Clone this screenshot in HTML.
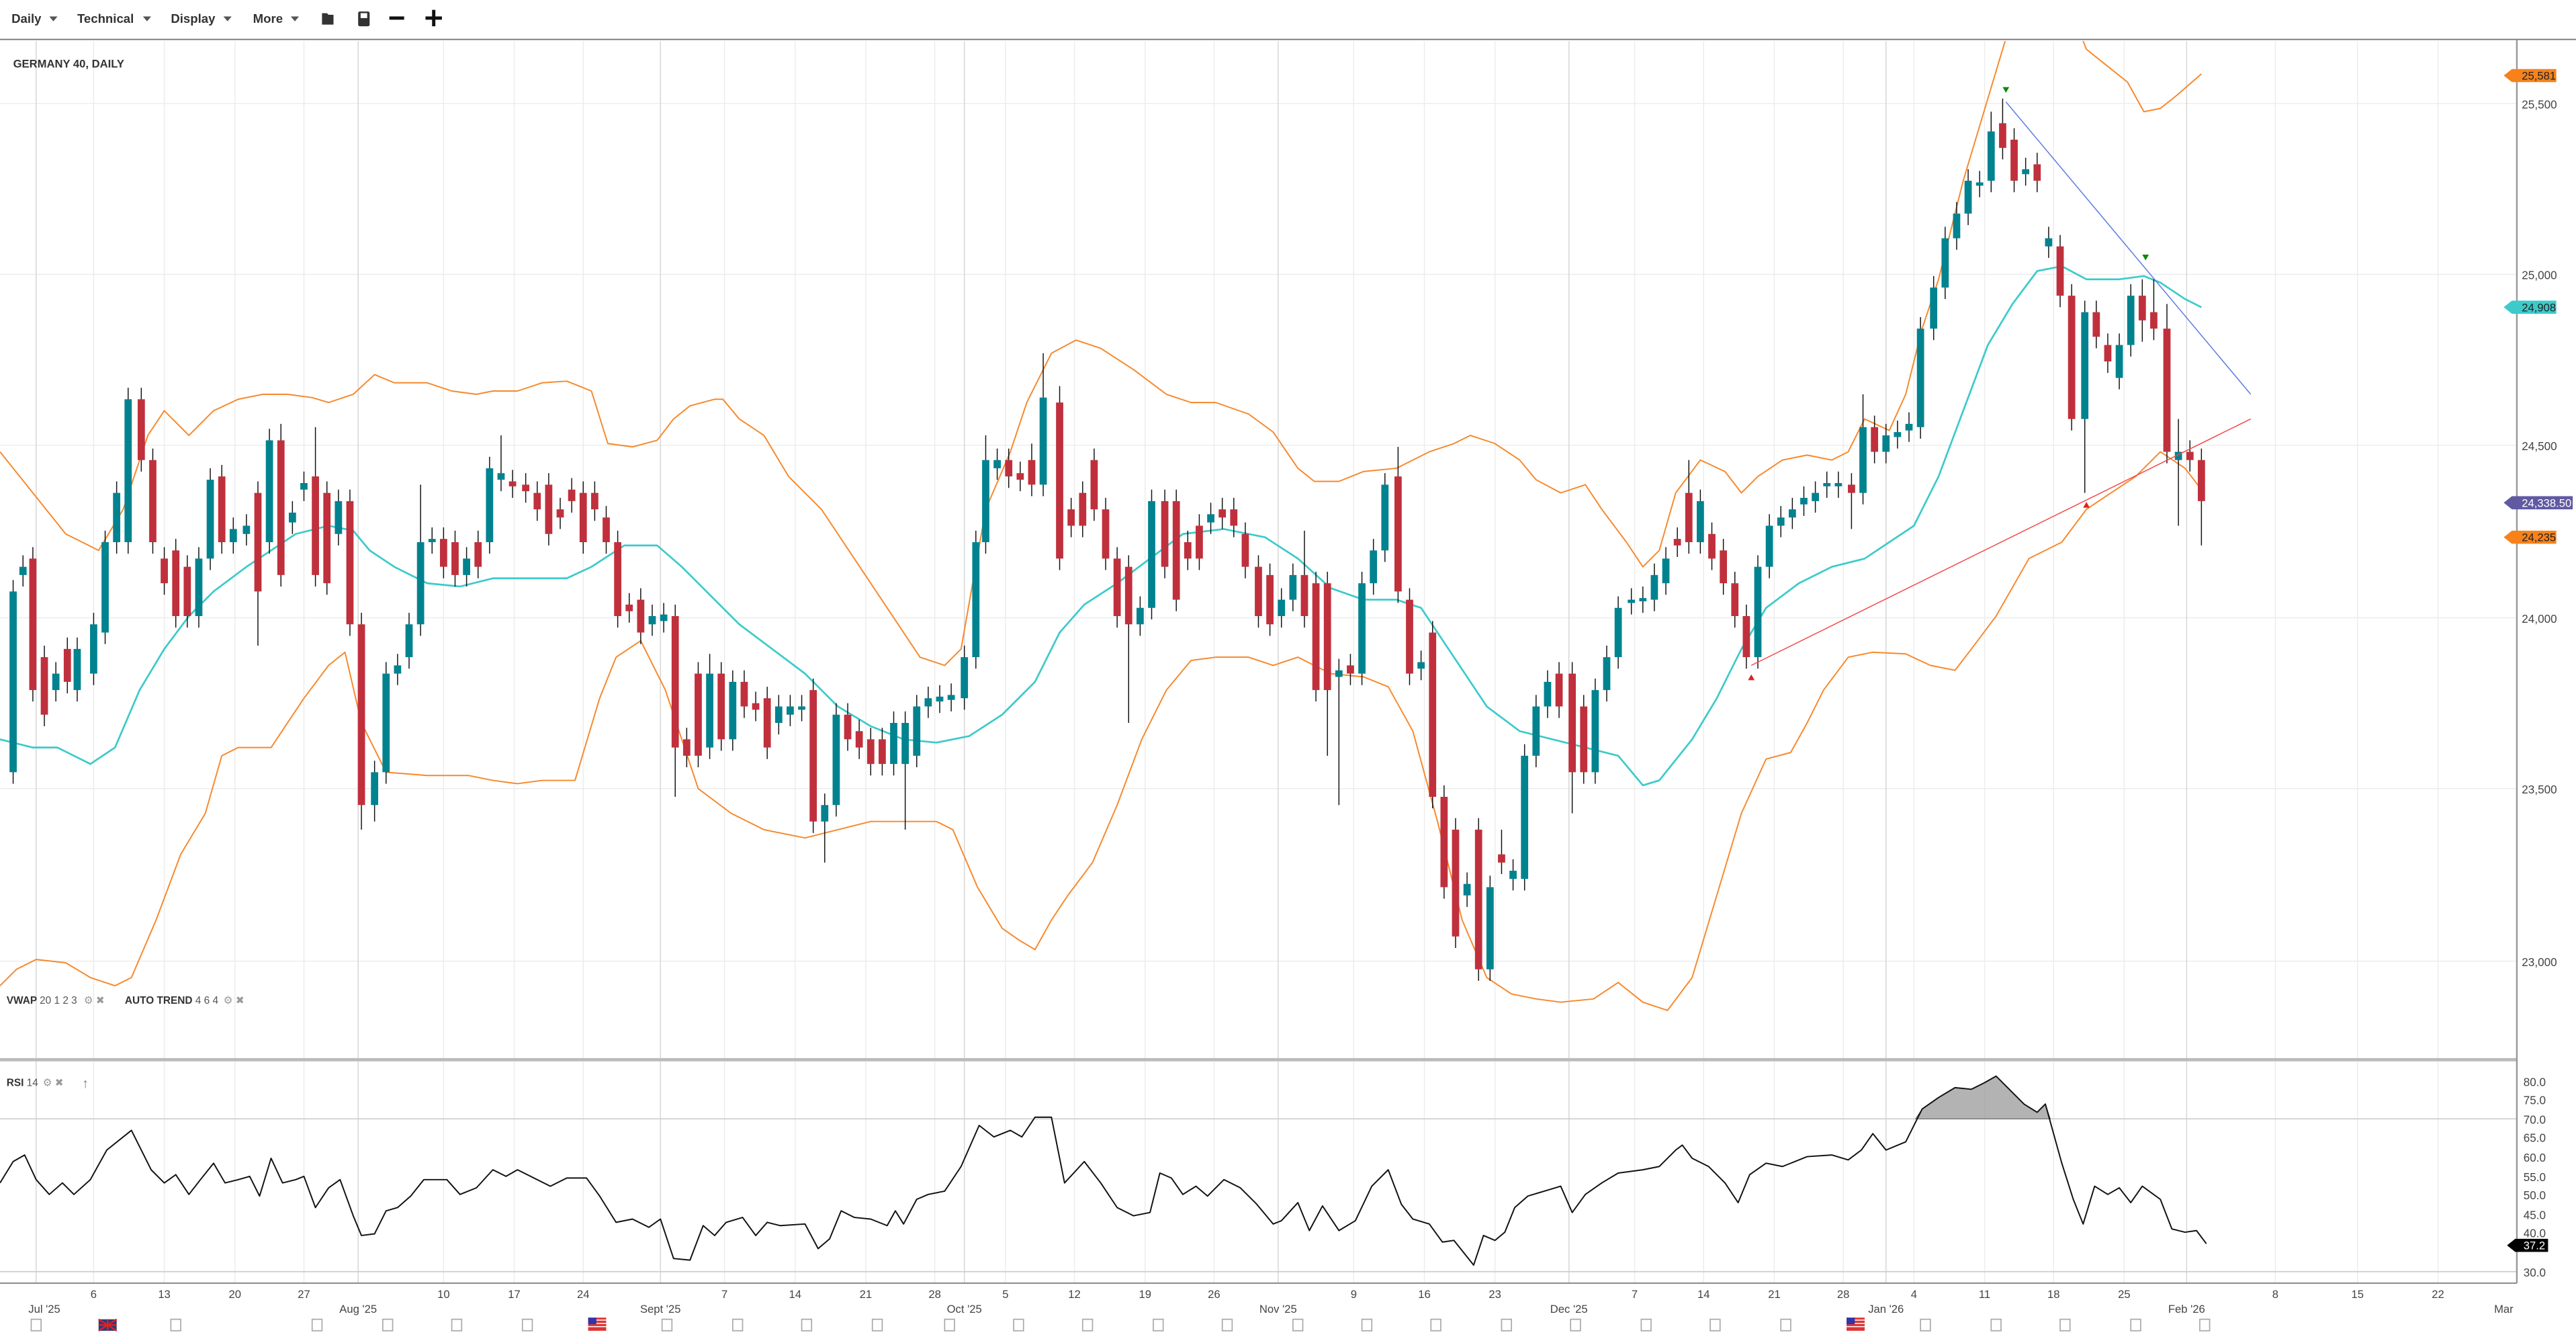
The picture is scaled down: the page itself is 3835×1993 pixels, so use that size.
<!DOCTYPE html>
<html><head><meta charset="utf-8"><style>
html,body{margin:0;padding:0;background:#fff;}
svg{display:block;font-family:"Liberation Sans",sans-serif;}
</style></head><body>
<svg width="3835" height="1993" viewBox="0 0 1568 815" preserveAspectRatio="none" xmlns="http://www.w3.org/2000/svg">
<rect x="0" y="0" width="1568" height="815" fill="#fff"/>
<g font-size="7.6" fill="#333" font-weight="bold">
<text x="7" y="14">Daily</text><path d="M30 10h5l-2.5 3z" fill="#555"/>
<text x="47" y="14">Technical</text><path d="M87 10h5l-2.5 3z" fill="#555"/>
<text x="104" y="14">Display</text><path d="M136 10h5l-2.5 3z" fill="#555"/>
<text x="154" y="14">More</text><path d="M177 10h5l-2.5 3z" fill="#555"/>
<path d="M196 8h3l1 1h3v6h-7z" fill="#333"/>
<rect x="218" y="7" width="7" height="9" rx="1" fill="#333"/><rect x="219.5" y="8" width="4" height="3" fill="#fff"/>
<rect x="237" y="10" width="9" height="2" fill="#111"/>
<rect x="259" y="10" width="10" height="2" fill="#111"/><rect x="263" y="6" width="2" height="10" fill="#111"/>
</g>
<line x1="0" y1="24" x2="1568" y2="24" stroke="#777" stroke-width="0.8"/>
<g stroke="#ececec" stroke-width="0.6">
<path d="M57 25V781M100 25V781M143 25V781M185 25V781M270 25V781M313 25V781M355 25V781M441 25V781M484 25V781M527 25V781M569 25V781M612 25V781M654 25V781M697 25V781M739 25V781M824 25V781M867 25V781M910 25V781M995 25V781M1037 25V781M1080 25V781M1122 25V781M1165 25V781M1208 25V781M1250 25V781M1293 25V781M1385 25V781M1435 25V781M1484 25V781"/>
<path d="M0 63H1532M0 167H1532M0 271H1532M0 376H1532M0 480H1532M0 585H1532"/>
</g>
<path d="M22 25V781M218 25V781M402 25V781M587 25V781M778 25V781M955 25V781M1148 25V781M1331 25V781" stroke="#d6d6d6" stroke-width="0.6"/>
<line x1="0" y1="681" x2="1532" y2="681" stroke="#ccc" stroke-width="0.7"/>
<line x1="0" y1="774" x2="1532" y2="774" stroke="#ccc" stroke-width="0.7"/>
<text x="8" y="41" font-size="6.8" font-weight="bold" fill="#333">GERMANY 40, DAILY</text>
<defs><clipPath id="mc"><rect x="0" y="25" width="1532" height="619"/></clipPath></defs>
<g clip-path="url(#mc)" fill="none" stroke-linejoin="round">
<polyline stroke="#f7882b" stroke-width="0.8" points="0,275 20,300 40,325 60,335 75,310 90,265 100,250 115,265 130,250 145,243 160,240 175,240 190,242 200,245 215,240 228,228 240,233 260,233 275,238 290,240 300,238 315,238 330,233 345,232 360,238 370,270 385,272 400,268 410,255 420,247 435,243 440,243 450,255 465,265 480,290 500,310 520,340 540,370 560,400 575,405 585,395 600,310 615,275 625,245 640,215 655,207 670,212 690,225 710,240 725,245 740,245 760,252 775,263 790,285 800,293 815,293 830,287 850,285 870,275 885,270 895,265 910,270 925,280 935,292 950,300 965,295 975,310 990,330 1000,345 1010,335 1020,300 1035,280 1050,287 1060,300 1070,290 1085,280 1100,277 1115,280 1125,275 1135,255 1150,262 1160,240 1170,200 1180,170 1195,110 1210,60 1225,10"/>
<polyline stroke="#f7882b" stroke-width="0.8" points="1262,10 1270,30 1280,38 1295,50 1305,68 1315,66 1325,58 1340,45"/>
<polyline stroke="#f7882b" stroke-width="0.8" points="0,600 10,590 22,584 40,586 55,595 70,600 80,595 95,560 110,520 125,495 135,460 145,455 165,455 175,440 185,425 200,405 210,397 220,440 235,470 260,472 285,472 300,475 315,477 330,475 350,475 365,425 375,400 390,390 405,420 425,480 445,495 465,505 490,510 510,505 530,500 550,500 570,500 580,505 595,540 610,565 620,572 630,578 640,560 650,545 665,525 680,490 695,450 710,420 725,402 740,400 760,400 775,405 790,400 800,405 810,410 830,412 845,418 860,445 875,500 890,560 905,595 920,605 935,608 950,610 970,608 985,598 1000,610 1015,615 1030,595 1045,545 1060,495 1075,462 1090,458 1100,440 1110,420 1125,400 1140,397 1160,398 1175,405 1190,408 1200,395 1215,375 1235,340 1255,330 1270,310 1285,300 1300,290 1315,275 1330,285 1340,298"/>
<polyline stroke="#3ccaca" stroke-width="1.1" points="0,450 20,455 35,455 55,465 70,455 85,420 100,395 115,375 130,360 150,345 165,335 180,325 200,320 215,323 225,335 240,345 260,355 280,357 300,352 320,352 345,352 360,345 380,332 400,332 415,345 430,360 450,380 470,395 490,410 510,430 530,442 550,450 570,452 590,448 610,435 630,415 645,385 660,368 680,355 700,340 720,325 745,322 770,327 790,340 810,358 830,365 850,365 865,370 885,400 905,430 925,445 945,450 965,455 985,460 1000,478 1010,475 1030,450 1045,425 1060,395 1075,370 1095,355 1115,345 1135,340 1150,330 1165,320 1180,290 1195,250 1210,210 1225,185 1240,165 1255,162 1270,170 1290,170 1305,168 1315,172 1330,182 1340,187"/>
<path stroke="#111" stroke-width="0.6" d="M8 353V477M14 338V357M20 333V427M27 393V442M34 403V427M41 388V422M47 388V427M57 373V417M64 323V392M71 293V337M78 236V337M86 236V287M93 273V337M100 333V362M107 328V382M114 338V382M121 333V382M128 285V347M135 283V337M142 315V337M150 313V332M157 293V393M164 261V337M171 258V357M178 305V325M185 287V305M192 260V357M199 293V362M206 298V332M213 298V387M220 373V505M228 463V500M235 403V477M242 398V417M249 373V407M256 295V387M263 321V337M270 321V352M277 323V357M284 333V357M291 323V352M298 278V337M305 265V299M312 286V303M320 288V306M327 293V317M334 288V332M341 303V322M348 291V312M355 293V337M362 293V317M369 308V337M376 323V382M383 361V379M390 358V392M397 368V387M404 367V385M411 368V485M418 443V467M425 403V467M432 398V462M439 403V457M446 408V457M453 408V437M460 421V439M467 418V462M474 423V447M481 423V442M488 423V439M495 413V507M502 483V525M509 428V497M516 428V457M523 438V462M530 443V472M537 443V472M544 433V472M551 433V505M558 423V467M565 418V437M572 417V434M579 416V433M587 393V432M594 323V407M600 265V337M607 273V292M614 273V297M621 281V299M628 270V302M635 215V302M645 235V347M652 303V327M659 293V327M666 273V317M673 303V347M680 333V382M687 338V440M694 363V387M701 298V377M709 298V352M716 298V372M723 323V347M730 313V347M737 306V325M744 303V322M751 303V327M758 318V352M766 338V382M773 343V387M780 358V382M787 343V372M794 323V382M801 348V427M808 348V460M815 401V490M822 398V417M829 348V417M836 328V362M843 288V342M851 272V367M858 358V417M865 396V414M872 378V492M879 478V547M886 498V577M893 531V552M900 498V597M907 533V597M914 505V532M921 523V542M928 453V542M935 423V467M942 408V437M949 403V437M957 403V495M964 423V477M971 413V477M978 393V427M985 363V407M993 358V374M1000 357V373M1007 343V372M1014 333V362M1021 321V339M1028 280V337M1035 298V337M1042 318V347M1049 328V362M1056 348V382M1063 368V407M1070 338V407M1077 313V352M1084 308V327M1091 303V322M1098 296V314M1105 293V312M1112 287V303M1119 287V303M1127 288V322M1134 240V307M1141 253V282M1148 258V282M1155 256V273M1162 251V269M1169 193V267M1177 168V207M1184 138V182M1191 123V152M1198 103V137M1205 104V120M1212 68V117M1219 60V97M1226 78V117M1233 96V113M1240 93V117M1247 138V157M1254 143V187M1261 173V262M1269 183V300M1276 183V212M1283 203V227M1290 203V237M1297 173V217M1304 170V208M1311 170V207M1319 185V282M1326 255V320M1333 268V287M1340 273V332"/>
<path fill="#00838f" d="M5.8 360h4.4v110h-4.4zM11.8 345h4.4v5h-4.4zM31.8 410h4.4v10h-4.4zM44.8 395h4.4v25h-4.4zM54.8 380h4.4v30h-4.4zM61.8 330h4.4v55h-4.4zM68.8 300h4.4v30h-4.4zM75.8 243h4.4v87h-4.4zM118.8 340h4.4v35h-4.4zM125.8 292h4.4v48h-4.4zM139.8 322h4.4v8h-4.4zM147.8 320h4.4v5h-4.4zM161.8 268h4.4v62h-4.4zM175.8 312h4.4v6h-4.4zM182.8 294h4.4v4h-4.4zM203.8 305h4.4v20h-4.4zM225.8 470h4.4v20h-4.4zM232.8 410h4.4v60h-4.4zM239.8 405h4.4v5h-4.4zM246.8 380h4.4v20h-4.4zM253.8 330h4.4v50h-4.4zM260.8 328h4.4v2h-4.4zM281.8 340h4.4v10h-4.4zM295.8 285h4.4v45h-4.4zM302.8 288h4.4v4h-4.4zM394.8 375h4.4v5h-4.4zM401.8 374h4.4v4h-4.4zM429.8 410h4.4v45h-4.4zM443.8 415h4.4v35h-4.4zM471.8 430h4.4v10h-4.4zM478.8 430h4.4v5h-4.4zM485.8 430h4.4v2h-4.4zM499.8 490h4.4v10h-4.4zM506.8 435h4.4v55h-4.4zM541.8 440h4.4v25h-4.4zM548.8 440h4.4v25h-4.4zM555.8 430h4.4v30h-4.4zM562.8 425h4.4v5h-4.4zM569.8 424h4.4v3h-4.4zM576.8 423h4.4v3h-4.4zM584.8 400h4.4v25h-4.4zM591.8 330h4.4v70h-4.4zM597.8 280h4.4v50h-4.4zM604.8 280h4.4v5h-4.4zM632.8 242h4.4v53h-4.4zM691.8 370h4.4v10h-4.4zM698.8 305h4.4v65h-4.4zM734.8 313h4.4v5h-4.4zM777.8 365h4.4v10h-4.4zM784.8 350h4.4v15h-4.4zM812.8 408h4.4v4h-4.4zM826.8 355h4.4v55h-4.4zM833.8 335h4.4v20h-4.4zM840.8 295h4.4v40h-4.4zM862.8 403h4.4v4h-4.4zM890.8 538h4.4v7h-4.4zM904.8 540h4.4v50h-4.4zM918.8 530h4.4v5h-4.4zM925.8 460h4.4v75h-4.4zM932.8 430h4.4v30h-4.4zM939.8 415h4.4v15h-4.4zM968.8 420h4.4v50h-4.4zM975.8 400h4.4v20h-4.4zM982.8 370h4.4v30h-4.4zM990.8 365h4.4v2h-4.4zM997.8 364h4.4v2h-4.4zM1004.8 350h4.4v15h-4.4zM1011.8 340h4.4v15h-4.4zM1032.8 305h4.4v25h-4.4zM1067.8 345h4.4v55h-4.4zM1074.8 320h4.4v25h-4.4zM1081.8 315h4.4v5h-4.4zM1088.8 310h4.4v5h-4.4zM1095.8 303h4.4v4h-4.4zM1102.8 300h4.4v5h-4.4zM1109.8 294h4.4v2h-4.4zM1116.8 294h4.4v2h-4.4zM1131.8 260h4.4v40h-4.4zM1145.8 265h4.4v10h-4.4zM1152.8 263h4.4v3h-4.4zM1159.8 258h4.4v4h-4.4zM1166.8 200h4.4v60h-4.4zM1174.8 175h4.4v25h-4.4zM1181.8 145h4.4v30h-4.4zM1188.8 130h4.4v15h-4.4zM1195.8 110h4.4v20h-4.4zM1202.8 111h4.4v2h-4.4zM1209.8 80h4.4v30h-4.4zM1230.8 103h4.4v3h-4.4zM1244.8 145h4.4v5h-4.4zM1266.8 190h4.4v65h-4.4zM1287.8 210h4.4v20h-4.4zM1294.8 180h4.4v30h-4.4zM1323.8 275h4.4v5h-4.4z"/>
<path fill="#c0303c" d="M17.8 340h4.4v80h-4.4zM24.8 400h4.4v35h-4.4zM38.8 395h4.4v20h-4.4zM83.8 243h4.4v37h-4.4zM90.8 280h4.4v50h-4.4zM97.8 340h4.4v15h-4.4zM104.8 335h4.4v40h-4.4zM111.8 345h4.4v30h-4.4zM132.8 290h4.4v40h-4.4zM154.8 300h4.4v60h-4.4zM168.8 268h4.4v82h-4.4zM189.8 290h4.4v60h-4.4zM196.8 300h4.4v55h-4.4zM210.8 305h4.4v75h-4.4zM217.8 380h4.4v110h-4.4zM267.8 328h4.4v17h-4.4zM274.8 330h4.4v20h-4.4zM288.8 330h4.4v15h-4.4zM309.8 293h4.4v3h-4.4zM317.8 295h4.4v4h-4.4zM324.8 300h4.4v10h-4.4zM331.8 295h4.4v30h-4.4zM338.8 310h4.4v5h-4.4zM345.8 298h4.4v7h-4.4zM352.8 300h4.4v30h-4.4zM359.8 300h4.4v10h-4.4zM366.8 315h4.4v15h-4.4zM373.8 330h4.4v45h-4.4zM380.8 368h4.4v4h-4.4zM387.8 365h4.4v20h-4.4zM408.8 375h4.4v80h-4.4zM415.8 450h4.4v10h-4.4zM422.8 410h4.4v50h-4.4zM436.8 410h4.4v40h-4.4zM450.8 415h4.4v15h-4.4zM457.8 428h4.4v4h-4.4zM464.8 425h4.4v30h-4.4zM492.8 420h4.4v80h-4.4zM513.8 435h4.4v15h-4.4zM520.8 445h4.4v10h-4.4zM527.8 450h4.4v15h-4.4zM534.8 450h4.4v15h-4.4zM611.8 280h4.4v10h-4.4zM618.8 288h4.4v4h-4.4zM625.8 280h4.4v15h-4.4zM642.8 245h4.4v95h-4.4zM649.8 310h4.4v10h-4.4zM656.8 300h4.4v20h-4.4zM663.8 280h4.4v30h-4.4zM670.8 310h4.4v30h-4.4zM677.8 340h4.4v35h-4.4zM684.8 345h4.4v35h-4.4zM706.8 305h4.4v40h-4.4zM713.8 305h4.4v60h-4.4zM720.8 330h4.4v10h-4.4zM727.8 320h4.4v20h-4.4zM741.8 310h4.4v5h-4.4zM748.8 310h4.4v10h-4.4zM755.8 325h4.4v20h-4.4zM763.8 345h4.4v30h-4.4zM770.8 350h4.4v30h-4.4zM791.8 350h4.4v25h-4.4zM798.8 355h4.4v65h-4.4zM805.8 355h4.4v65h-4.4zM819.8 405h4.4v5h-4.4zM848.8 290h4.4v70h-4.4zM855.8 365h4.4v45h-4.4zM869.8 385h4.4v100h-4.4zM876.8 485h4.4v55h-4.4zM883.8 505h4.4v65h-4.4zM897.8 505h4.4v85h-4.4zM911.8 520h4.4v5h-4.4zM946.8 410h4.4v20h-4.4zM954.8 410h4.4v60h-4.4zM961.8 430h4.4v40h-4.4zM1018.8 328h4.4v4h-4.4zM1025.8 300h4.4v30h-4.4zM1039.8 325h4.4v15h-4.4zM1046.8 335h4.4v20h-4.4zM1053.8 355h4.4v20h-4.4zM1060.8 375h4.4v25h-4.4zM1124.8 295h4.4v5h-4.4zM1138.8 260h4.4v15h-4.4zM1216.8 75h4.4v15h-4.4zM1223.8 85h4.4v25h-4.4zM1237.8 100h4.4v10h-4.4zM1251.8 150h4.4v30h-4.4zM1258.8 180h4.4v75h-4.4zM1273.8 190h4.4v15h-4.4zM1280.8 210h4.4v10h-4.4zM1301.8 180h4.4v15h-4.4zM1308.8 190h4.4v10h-4.4zM1316.8 200h4.4v75h-4.4zM1330.8 275h4.4v5h-4.4zM1337.8 280h4.4v25h-4.4z"/>
<line x1="1221" y1="62" x2="1370" y2="240" stroke="#5b7be0" stroke-width="0.6"/>
<line x1="1066" y1="405" x2="1370" y2="255" stroke="#f04848" stroke-width="0.6"/>
<path d="M1219 53h4l-2 3.5z M1304 155h4l-2 3.5z" fill="#0a8a0a" stroke="none"/>
<path d="M1064 414h4l-2 -3.5z M1268 309h4l-2 -3.5z" fill="#e02020" stroke="none"/>
</g>
<rect x="0" y="644" width="1532" height="2" fill="#bbb"/>
<line x1="0" y1="781" x2="1532" y2="781" stroke="#888" stroke-width="0.8"/>
<line x1="1532" y1="24" x2="1532" y2="781" stroke="#999" stroke-width="1"/>
<g font-size="6.3" fill="#333">
<text x="4" y="611" font-weight="bold">VWAP <tspan font-weight="normal" fill="#555">20 1 2 3</tspan></text>
<text x="51" y="611" fill="#999">⚙ ✖</text>
<text x="76" y="611" font-weight="bold">AUTO TREND <tspan font-weight="normal" fill="#555">4 6 4</tspan></text>
<text x="136" y="611" fill="#999">⚙ ✖</text>
<text x="4" y="661" font-weight="bold">RSI <tspan font-weight="normal" fill="#555">14</tspan></text>
<text x="26" y="661" fill="#999">⚙ ✖</text>
<text x="50" y="662" fill="#777" font-size="8">↑</text>
</g>
<path d="M1166 681 L1170 675 1180 668 1190 662 1200 663 1208 659 1215 655 1222 662 1232 672 1240 677 1245 672 1248 681 Z" fill="#999" fill-opacity="0.75" stroke="#555" stroke-width="0.4"/>
<polyline fill="none" stroke="#111" stroke-width="0.8" stroke-linejoin="round" points="0,720 8,707 15,703 22,718 30,727 38,720 45,727 55,718 65,700 80,688 92,712 100,720 107,715 115,727 122,718 130,708 137,720 145,718 152,716 158,728 165,705 172,720 180,718 185,716 192,735 200,723 207,718 215,740 220,752 228,751 235,737 242,735 250,728 258,718 265,718 272,718 280,727 290,723 300,712 308,716 315,712 325,717 335,722 345,717 357,717 365,728 375,744 385,742 395,747 402,742 410,766 420,767 428,746 435,752 442,744 452,741 460,752 467,744 475,746 490,745 498,760 505,754 512,737 520,741 530,742 540,746 545,737 550,745 558,730 565,727 575,725 585,710 596,685 605,692 615,688 622,692 630,680 640,680 648,720 660,707 670,720 680,735 690,740 700,738 706,714 713,717 720,727 728,722 735,728 745,718 755,723 765,733 775,745 780,743 790,732 797,749 805,734 815,749 825,743 835,722 845,712 853,733 860,742 870,745 878,756 885,755 893,765 897,770 903,752 910,755 916,750 922,735 930,728 940,725 950,722 957,738 965,727 975,720 985,714 1000,712 1010,710 1020,700 1024,697 1030,705 1040,710 1050,720 1058,732 1065,715 1075,708 1085,710 1100,704 1115,703 1125,706 1133,700 1140,690 1148,700 1160,695 1170,675 1180,668 1190,662 1200,663 1208,659 1215,655 1222,662 1232,672 1240,677 1245,672 1255,708 1262,730 1268,745 1275,722 1283,727 1290,723 1297,732 1304,722 1315,730 1322,748 1330,750 1337,749 1343,757"/>
<g font-size="7" fill="#444">
<text x="1535" y="66">25,500</text><text x="1535" y="170">25,000</text><text x="1535" y="274">24,500</text><text x="1535" y="379">24,000</text><text x="1535" y="483">23,500</text><text x="1535" y="588">23,000</text>
<text x="1536" y="661">80.0</text><text x="1536" y="672">75.0</text><text x="1536" y="684">70.0</text><text x="1536" y="695">65.0</text><text x="1536" y="707">60.0</text><text x="1536" y="719">55.0</text><text x="1536" y="730">50.0</text><text x="1536" y="742">45.0</text><text x="1536" y="753">40.0</text><text x="1536" y="777">30.0</text>
</g>
<g font-size="6.8">
<path d="M1524 46l5-4h27v8h-27z" fill="#f7821b"/><text x="1535" y="48.5" fill="#222">25,581</text>
<path d="M1524 187l5-4h27v8h-27z" fill="#3ccaca"/><text x="1535" y="189.5" fill="#222">24,908</text>
<path d="M1524 306l5-4h37v8h-37z" fill="#5f5aa2"/><text x="1535" y="308.5" fill="#fff">24,338.50</text>
<path d="M1524 327l5-4h27v8h-27z" fill="#f7821b"/><text x="1535" y="329.5" fill="#222">24,235</text>
<path d="M1526 758l5-4h20v8h-20z" fill="#000"/><text x="1536" y="760.5" fill="#fff">37.2</text>
</g>
<g font-size="6.8" fill="#444" text-anchor="middle">
<text x="57" y="790">6</text><text x="100" y="790">13</text><text x="143" y="790">20</text><text x="185" y="790">27</text>
<text x="270" y="790">10</text><text x="313" y="790">17</text><text x="355" y="790">24</text>
<text x="441" y="790">7</text><text x="484" y="790">14</text><text x="527" y="790">21</text><text x="569" y="790">28</text>
<text x="612" y="790">5</text><text x="654" y="790">12</text><text x="697" y="790">19</text><text x="739" y="790">26</text>
<text x="824" y="790">9</text><text x="867" y="790">16</text><text x="910" y="790">23</text>
<text x="995" y="790">7</text><text x="1037" y="790">14</text><text x="1080" y="790">21</text><text x="1122" y="790">28</text>
<text x="1165" y="790">4</text><text x="1208" y="790">11</text><text x="1250" y="790">18</text><text x="1293" y="790">25</text>
<text x="1385" y="790">8</text><text x="1435" y="790">15</text><text x="1484" y="790">22</text>
<text x="27" y="799">Jul '25</text><text x="218" y="799">Aug '25</text><text x="402" y="799">Sept '25</text><text x="587" y="799">Oct '25</text><text x="778" y="799">Nov '25</text><text x="955" y="799">Dec '25</text><text x="1148" y="799">Jan '26</text><text x="1331" y="799">Feb '26</text><text x="1524" y="799">Mar</text>
</g>
<path fill="none" stroke="#aaa" stroke-width="0.7" d="M19 803h6v7h-6zM104 803h6v7h-6zM190 803h6v7h-6zM233 803h6v7h-6zM275 803h6v7h-6zM318 803h6v7h-6zM403 803h6v7h-6zM446 803h6v7h-6zM488 803h6v7h-6zM531 803h6v7h-6zM575 803h6v7h-6zM617 803h6v7h-6zM659 803h6v7h-6zM702 803h6v7h-6zM744 803h6v7h-6zM787 803h6v7h-6zM829 803h6v7h-6zM871 803h6v7h-6zM914 803h6v7h-6zM956 803h6v7h-6zM999 803h6v7h-6zM1041 803h6v7h-6zM1084 803h6v7h-6zM1169 803h6v7h-6zM1212 803h6v7h-6zM1254 803h6v7h-6zM1297 803h6v7h-6zM1339 803h6v7h-6z"/>
<rect x="60" y="803" width="11" height="7" fill="#2b3b7a"/><path d="M60 803l11 7M71 803l-11 7M65.5 803v7M60 806.5h11" stroke="#d22" stroke-width="1"/>
<rect x="358" y="802" width="11" height="8" fill="#d33"/><path d="M358 803.5h11M358 805.5h11M358 807.5h11" stroke="#fff" stroke-width="0.6"/><rect x="358" y="802" width="5" height="4" fill="#33a"/>
<rect x="1124" y="802" width="11" height="8" fill="#d33"/><path d="M1124 803.5h11M1124 805.5h11M1124 807.5h11" stroke="#fff" stroke-width="0.6"/><rect x="1124" y="802" width="5" height="4" fill="#33a"/>
</svg>
</body></html>
